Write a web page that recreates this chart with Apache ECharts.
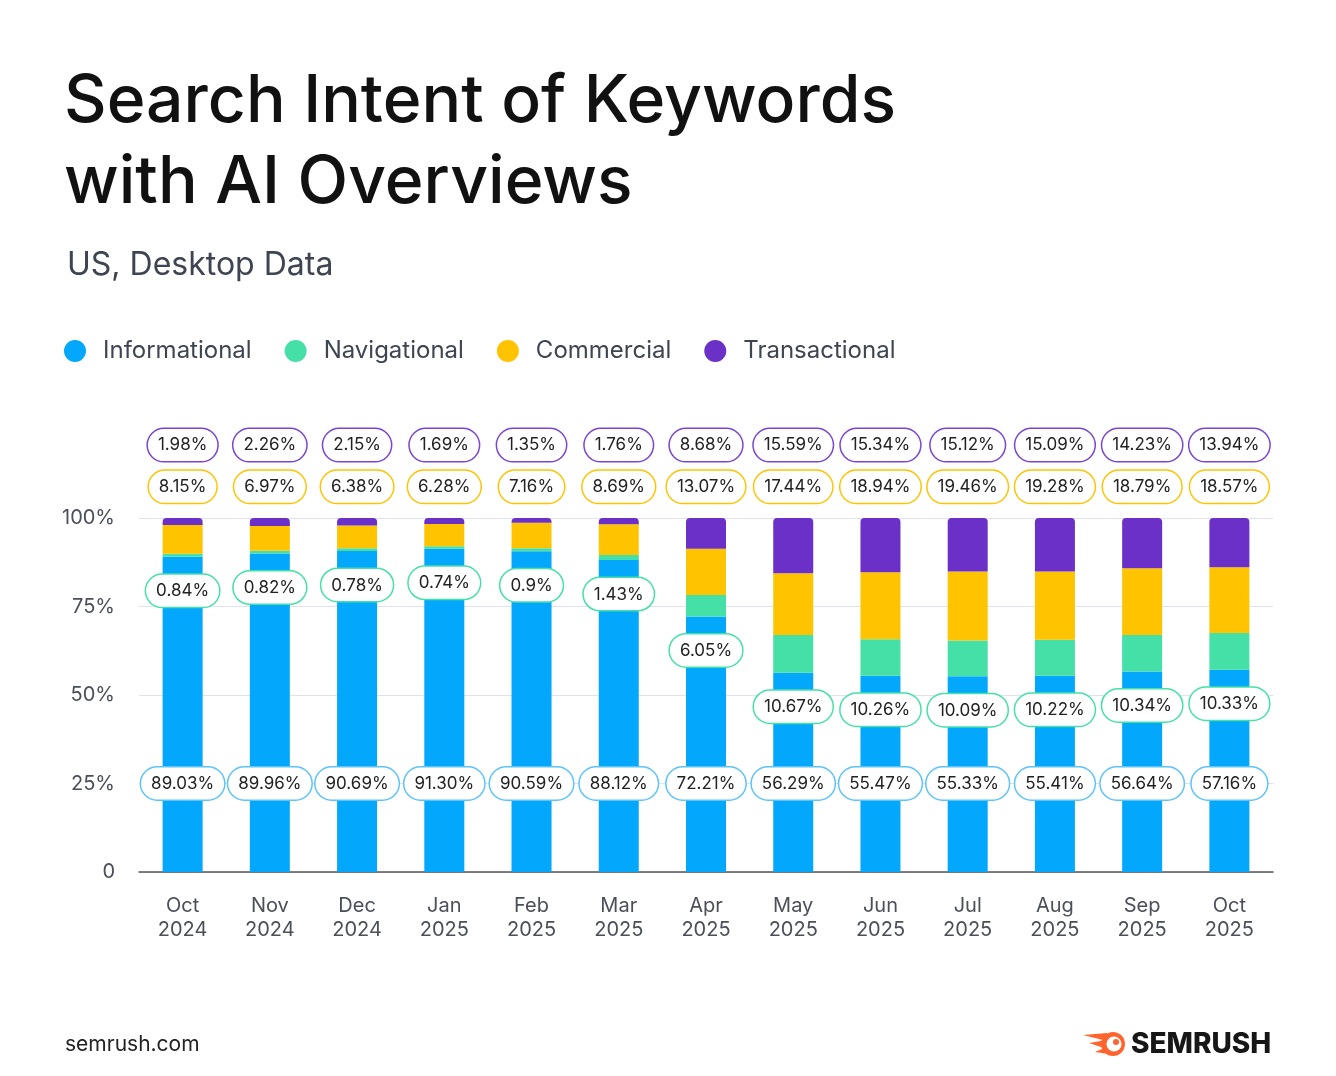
<!DOCTYPE html>
<html>
<head>
<meta charset="utf-8">
<script src="https://cdn.jsdelivr.net/npm/echarts@6/dist/echarts.min.js"></script>
<style>
  html, body { margin: 0; padding: 0; background: #fff; }
  #chart { width: 1336px; height: 1076px; }
</style>
</head>
<body>
<div id="chart"></div>
<script>
const months = ['Oct\n2024', 'Nov\n2024', 'Dec\n2024', 'Jan\n2025', 'Feb\n2025', 'Mar\n2025', 'Apr\n2025',
  'May\n2025', 'Jun\n2025', 'Jul\n2025', 'Aug\n2025', 'Sep\n2025', 'Oct\n2025'];
const informational = [89.03, 89.96, 90.69, 91.30, 90.59, 88.12, 72.21, 56.29, 55.47, 55.33, 55.41, 56.64, 57.16];
const navigational = [0.84, 0.82, 0.78, 0.74, 0.9, 1.43, 6.05, 10.67, 10.26, 10.09, 10.22, 10.34, 10.33];
const commercial = [8.15, 6.97, 6.38, 6.28, 7.16, 8.69, 13.07, 17.44, 18.94, 19.46, 19.28, 18.79, 18.57];
const transactional = [1.98, 2.26, 2.15, 1.69, 1.35, 1.76, 8.68, 15.59, 15.34, 15.12, 15.09, 14.23, 13.94];
const yTicks = [0, 25, 50, 75, 100];

// levels (in axis units) where the label rows sit
const infoRow = 25;
const commRow = 108.8;
const transRow = 120.6;

const colors = {
  info: '#03a8fd',
  nav: '#45e0a7',
  comm: '#ffc300',
  trans: '#6b30c8'
};
const FONT = 'Inter, "Noto Sans", sans-serif';

const fmt = v => (v < 1 ? String(v) : v.toFixed(2)) + '%';

const pill = (border) => ({
  show: true,
  position: 'inside',
  color: '#222',
  fontFamily: FONT,
  fontSize: 17,
  backgroundColor: '#fff',
  borderColor: border,
  borderWidth: 1.5,
  borderRadius: 17,
  padding: [8, 10, 7, 10]
});

const labelRow = (name, level, values, border) => ({
  name: name,
  type: 'scatter',
  clip: false,
  symbolSize: 0,
  z: 5,
  silent: true,
  itemStyle: { opacity: 1 },
  data: values.map((v, i) => [i, level]),
  label: Object.assign(pill(border), {
    formatter: p => fmt(values[p.dataIndex])
  })
});

const chart = echarts.init(document.getElementById('chart'));
chart.setOption({
  backgroundColor: '#fff',
  animation: false,
  title: [
    {
      text: 'Search Intent of Keywords\nwith AI Overviews',
      left: 59,
      top: 57,
      textStyle: { fontFamily: FONT, fontSize: 66, fontWeight: 500, color: '#111', lineHeight: 81 }
    },
    {
      text: 'US, Desktop Data',
      left: 62,
      top: 244,
      textStyle: { fontFamily: FONT, fontSize: 32, fontWeight: 400, color: '#3e4452' }
    }
  ],
  legend: {
    data: ['Informational', 'Navigational', 'Commercial', 'Transactional'],
    left: 59,
    top: 334,
    icon: 'circle',
    itemWidth: 22,
    itemHeight: 22,
    itemGap: 33,
    textStyle: { fontFamily: FONT, fontSize: 24, color: '#3e4452', padding: [0, 0, 0, 12] }
  },
  grid: { left: 139, right: 63, top: 518, bottom: 204, containLabel: false },
  xAxis: {
    type: 'category',
    data: months,
    axisLine: { lineStyle: { color: '#555', width: 1.5 } },
    axisTick: { show: false },
    axisLabel: { fontFamily: FONT, fontSize: 20, color: '#4a4f5a', lineHeight: 24, margin: 22 }
  },
  yAxis: {
    type: 'value',
    min: 0,
    max: 100,
    interval: 25,
    axisLine: { show: false },
    axisTick: { show: false },
    splitLine: { lineStyle: { color: '#dde2ee', width: 1 } },
    axisLabel: {
      fontFamily: FONT,
      fontSize: 20,
      color: '#4a4f5a',
      margin: 24,
      formatter: v => (yTicks.includes(v) ? (v === 0 ? '0' : v + '%') : '')
    }
  },
  series: [
    {
      name: 'Informational', type: 'bar', stack: 'all', barWidth: 40,
      itemStyle: { color: colors.info },
      data: informational
    },
    {
      name: 'Navigational', type: 'bar', stack: 'all', barWidth: 40,
      itemStyle: { color: colors.nav },
      data: navigational,
      label: Object.assign(pill(colors.nav), {
        position: 'bottom',
        distance: 18,
        formatter: p => fmt(p.value)
      })
    },
    {
      name: 'Commercial', type: 'bar', stack: 'all', barWidth: 40,
      itemStyle: { color: colors.comm },
      data: commercial
    },
    {
      name: 'Transactional', type: 'bar', stack: 'all', barWidth: 40,
      itemStyle: { color: colors.trans, borderRadius: [4, 4, 0, 0] },
      data: transactional
    },
    labelRow('infoLabels', infoRow, informational, '#5cc3fb'),
    labelRow('commLabels', commRow, commercial, colors.comm),
    labelRow('transLabels', transRow, transactional, '#7a45d0')
  ],
  graphic: [
    {
      type: 'text', left: 65, top: 1034,
      style: { text: 'semrush.com', fontFamily: FONT, fontSize: 21, fill: '#222' }
    },
    {
      type: 'group', left: 1083, top: 1032,
      children: [
        { type: 'polygon', shape: { points: [[0, 4], [24, 2], [24, 10]] }, style: { fill: '#ff642d' } },
        { type: 'polygon', shape: { points: [[6, 12], [24, 9], [24, 18]] }, style: { fill: '#ff642d' } },
        { type: 'polygon', shape: { points: [[12, 21], [24, 16], [26, 23]] }, style: { fill: '#ff642d' } },
        { type: 'circle', shape: { cx: 30, cy: 13, r: 12 }, style: { fill: '#ff642d' } },
        { type: 'circle', shape: { cx: 31, cy: 13, r: 7.5 }, style: { fill: '#fff' } },
        { type: 'circle', shape: { cx: 33, cy: 11, r: 3 }, style: { fill: '#ff642d' } }
      ]
    },
    {
      type: 'text', left: 1131, top: 1031,
      style: { text: 'SEMRUSH', fontFamily: FONT, fontSize: 28, fontWeight: 800, fill: '#171717' }
    }
  ]
});
</script>
</body>
</html>
